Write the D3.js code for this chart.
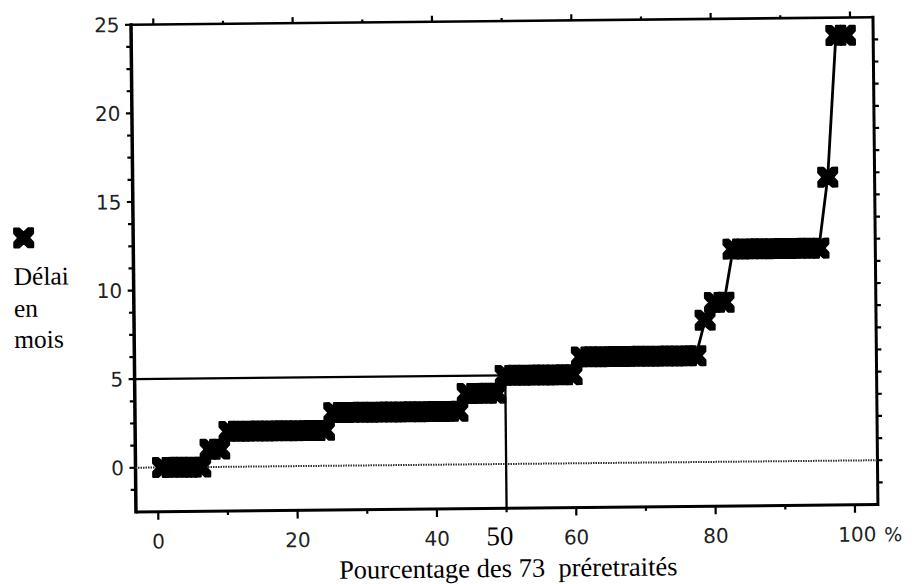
<!DOCTYPE html>
<html><head><meta charset="utf-8">
<script src="https://cdn.jsdelivr.net/npm/d3@7/dist/d3.min.js"></script>
<style>body{margin:0;background:#fff}svg{display:block}</style>
</head><body><svg id="c" width="912" height="584"></svg>
<script>
// Délai (mois) of each of the 73 préretraités, sorted
const delays = [
  0,0,0,0,0,
  1,1,
  2,2,2,2,2,2,2,2,2,2,2,
  3,3,3,3,3,3,3,3,3,3,3,3,3,3,
  4,4,4,4,
  5,5,5,5,5,5,5,5,
  6,6,6,6,6,6,6,6,6,6,6,6,6,
  8,
  9,9,
  12,12,12,12,12,12,12,12,12,12,
  16,
  24,24
];
const nRetirees = 73;
const yTickLabels = [0,5,10,15,20,25];
const xTickLabels = [0,20,40,60,80,100];
const medianPct = 50;
const medianDelay = 5;
const yLabelLines = ["Délai","en","mois"];
const xTitle = "Pourcentage des 73  préretraités";

const svg = d3.select("#c");
svg.append("rect").attr("width",912).attr("height",584).attr("fill","#fff");
const g = svg.append("g").attr("transform","rotate(-0.58,504,268)");

const x = d3.scaleLinear().domain([-3.2,103.3]).range([133.5,875.5]);
const y = d3.scaleLinear().domain([-2.5,25]).range([508.3,21]);
const [x0,x1] = x.range(); const [yb,yt] = y.range();

const sans = "'DejaVu Sans', sans-serif";
const serif = "'Liberation Serif','Times New Roman',serif";

// ticks
const yMinor = d3.range(-1.25, 25.01, 1.25);
const xMinor = d3.range(0, 100.01, 10);
const tk = g.append("g").attr("stroke","#000").attr("stroke-width",2.2);
yMinor.forEach(v=>{
  const isMaj = Math.abs(v/5-Math.round(v/5))<1e-6;
  tk.append("line").attr("x1",x0).attr("x2",x0-(isMaj?6:5)).attr("y1",y(v)).attr("y2",y(v));
  if (v<25) tk.append("line").attr("x1",x1).attr("x2",x1+5).attr("y1",y(v)).attr("y2",y(v));
});
xMinor.forEach(v=>{
  const isMaj = v%20===0;
  tk.append("line").attr("x1",x(v)).attr("x2",x(v)).attr("y1",yb).attr("y2",yb+(isMaj?8:4));
  tk.append("line").attr("x1",x(v)).attr("x2",x(v)).attr("y1",yt).attr("y2",yt-(isMaj?6:3));
});

// frame
g.append("line").attr("x1",x0).attr("x2",x0).attr("y1",yt-1.5).attr("y2",yb+1.5).attr("stroke","#000").attr("stroke-width",3.5);
g.append("line").attr("x1",x1).attr("x2",x1).attr("y1",yt-1.5).attr("y2",yb+1.5).attr("stroke","#000").attr("stroke-width",3);
g.append("line").attr("x1",x0).attr("x2",x1).attr("y1",yt).attr("y2",yt).attr("stroke","#000").attr("stroke-width",2.6);
g.append("line").attr("x1",x0).attr("x2",x1).attr("y1",yb).attr("y2",yb).attr("stroke","#000").attr("stroke-width",3);

// zero line
g.append("line").attr("x1",x0).attr("x2",x1).attr("y1",y(0)).attr("y2",y(0))
  .attr("stroke","#333").attr("stroke-width",2).attr("stroke-dasharray","1.5,1");

// median guides
g.append("line").attr("x1",x0).attr("x2",x(medianPct)).attr("y1",y(medianDelay)).attr("y2",y(medianDelay)).attr("stroke","#000").attr("stroke-width",2.3);
g.append("line").attr("x1",x(medianPct)).attr("x2",x(medianPct)).attr("y1",y(medianDelay)).attr("y2",yb).attr("stroke","#000").attr("stroke-width",2.3);

// y labels
yTickLabels.forEach(v=>{
  g.append("text").attr("x",122).attr("y",y(v)).attr("dy","0.36em").attr("text-anchor","end")
   .attr("font-family",sans).attr("font-size",20).attr("fill","#222").text(v);
});
// x labels
xTickLabels.forEach(v=>{
  g.append("text").attr("x",x(v)+(v===100?2:0)).attr("y",545).attr("text-anchor","middle")
   .attr("font-family",sans).attr("font-size",20).attr("fill","#222").text(v);
});
g.append("text").attr("x",x(100)+29).attr("y",545).attr("text-anchor","start")
   .attr("font-family",sans).attr("font-size",19).attr("fill","#222").text("%");
g.append("text").attr("x",x(medianPct)-7).attr("y",545).attr("text-anchor","middle")
   .attr("font-family",serif).attr("font-size",27).attr("fill","#000").text(medianPct);

// axis title
g.append("text").attr("x",336).attr("y",577).attr("font-family",serif).attr("font-size",26.5)
  .attr("fill","#000").style("white-space","pre").text(xTitle);

// marker shape + y label
function markerPath(h,n,d){
  const p=[[-h,-h],[-n,-h],[0,-h+d],[n,-h],[h,-h],[h,-n],[h-d,0],[h,n],[h,h],[n,h],[0,h-d],[-n,h],[-h,h],[-h,n],[-h+d,0],[-h,-n]];
  return "M"+p.map(q=>q.join(",")).join("L")+"Z";
}
const mPath = markerPath(9.3,4.5,4.2);
g.append("path").attr("d",mPath).attr("transform","translate(24,233)")
  .attr("fill","#000").attr("stroke","#000").attr("stroke-width",2.4).attr("stroke-linejoin","round");
yLabelLines.forEach((t,i)=>{
  g.append("text").attr("x",13.5).attr("y",[280,312,343][i]).attr("font-family",serif).attr("font-size",25.5)
   .attr("fill","#000").text(t);
});

// data
const pts = delays.map((d,i)=>({p:(i+0.5)/nRetirees*100, d}));
g.append("path").datum(pts).attr("fill","none").attr("stroke","#000").attr("stroke-width",2.8)
  .attr("d", d3.line().x(q=>x(q.p)).y(q=>y(q.d)));
g.append("g").selectAll("path").data(pts).join("path")
  .attr("d",mPath).attr("transform",q=>`translate(${x(q.p)},${y(q.d)})`)
  .attr("fill","#000").attr("stroke","#000").attr("stroke-width",2.4).attr("stroke-linejoin","round");
</script></body></html>
